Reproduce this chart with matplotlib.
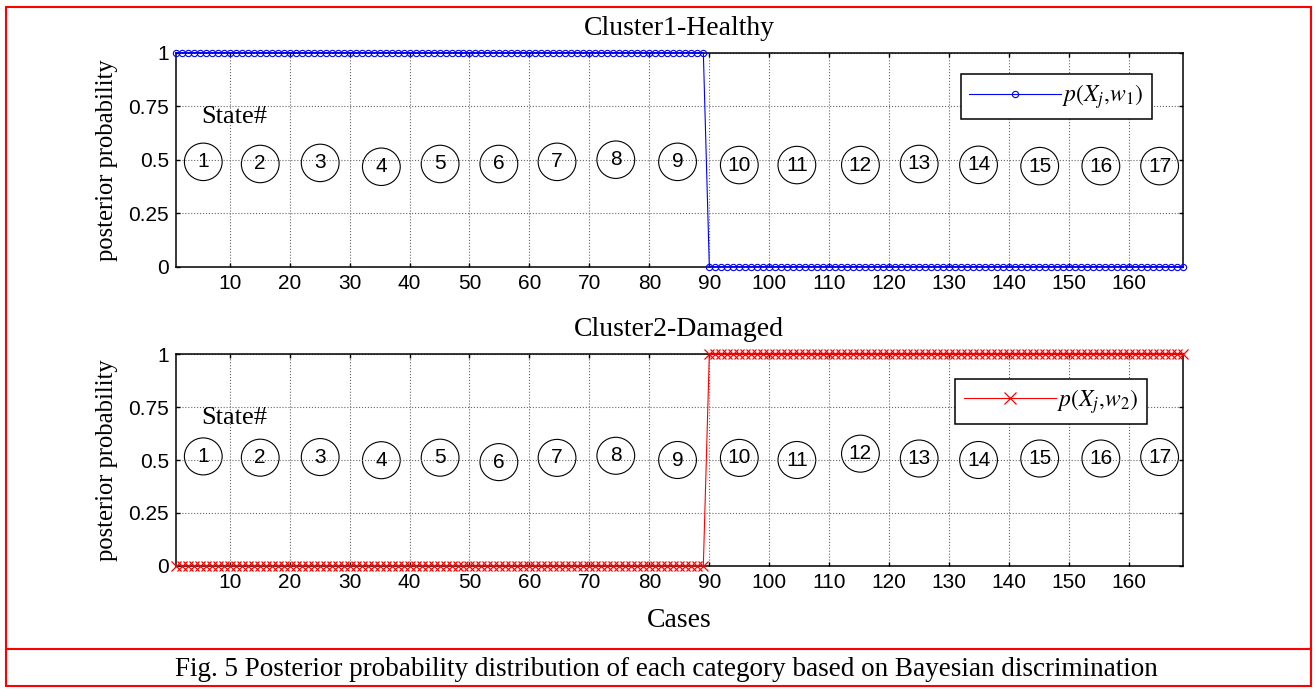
import numpy as np
import matplotlib.pyplot as plt
from matplotlib.patches import Ellipse, Rectangle
from matplotlib.lines import Line2D

# 169 cases, 17 states of about 10 cases each
cases = list(range(1, 170))
n_healthy = 89   # cases 1..89 classified healthy
n_damaged = 80   # cases 90..169 classified damaged
p_w1 = [1.0] * n_healthy + [0.0] * n_damaged
p_w2 = [0.0] * n_healthy + [1.0] * n_damaged

# state number annotations (circled numbers)
state_labels = [str(i) for i in range(1, 18)]
state_x = [5.6, 15.1, 25.1, 35.3, 45.1, 54.9, 64.6, 74.4, 84.7, 95.0,
           104.6, 115.2, 125.0, 134.9, 145.1, 155.3, 165.1]
state_y_top = [0.49, 0.48, 0.485, 0.467, 0.48, 0.48, 0.49, 0.50, 0.49, 0.475,
               0.475, 0.475, 0.48, 0.476, 0.47, 0.47, 0.47]
state_y_bot = [0.517, 0.511, 0.514, 0.499, 0.511, 0.49, 0.51, 0.52, 0.50, 0.51,
               0.50, 0.53, 0.507, 0.50, 0.507, 0.507, 0.514]

xticks = list(range(10, 170, 10))
yticks = [0, 0.25, 0.5, 0.75, 1]
ytick_labels = ['0', '0.25', '0.5', '0.75', '1']

plt.rcParams['font.family'] = 'Liberation Sans'
plt.rcParams['mathtext.fontset'] = 'stix'

W, H = 1315, 689
fig = plt.figure(figsize=(W / 100, H / 100), dpi=100)
ax1 = fig.add_axes([175.7 / W, 1 - 266.7 / H, (1183 - 175.7) / W, 214 / H])
ax2 = fig.add_axes([175.7 / W, 1 - 565.7 / H, (1183 - 175.7) / W, 211.4 / H])


def style_axis(ax, title, state_y):
    ax.set_xlim(1, 169)
    ax.set_ylim(0, 1)
    ax.set_xticks(xticks)
    ax.set_yticks(yticks)
    ax.set_yticklabels(ytick_labels)
    ax.tick_params(direction='in', length=3, width=1, top=True, right=True,
                   labelsize=15, pad=5)
    ax.grid(True, linestyle=':', color='0.4', linewidth=0.8)
    for s in ax.spines.values():
        s.set_linewidth(1.1)
    ax.set_title(title, family='Liberation Serif', fontsize=20, pad=13)
    ax.set_ylabel('posterior probability', family='Liberation Serif',
                  fontsize=17.7, labelpad=7)
    ax.text(5.3, 0.70, 'State#', family='Liberation Serif', fontsize=19,
            ha='left', va='center')
    for lab, x, y in zip(state_labels, state_x, state_y):
        ax.add_patch(Ellipse((x, y), 6.3, 0.175, fill=False,
                             edgecolor='black', linewidth=0.8))
        ax.text(x, y, lab, ha='center', va='center', fontsize=15)


style_axis(ax1, 'Cluster1-Healthy', state_y_top)
style_axis(ax2, 'Cluster2-Damaged', state_y_bot)

l1, = ax1.plot(cases, p_w1, '-o', color='blue', linewidth=0.8,
               markersize=4.5, markerfacecolor='none', markeredgewidth=0.8,
               clip_on=False, zorder=5)
l2, = ax2.plot(cases, p_w2, '-x', color='red', linewidth=0.8,
               markersize=7, markeredgewidth=0.9, clip_on=False, zorder=5)

leg1 = ax1.legend([l1], [r'$p(X_j{,}w_1)$'], loc='upper right',
                  bbox_to_anchor=(0.969, 0.90), borderaxespad=0,
                  fancybox=False, edgecolor='black', framealpha=1,
                  fontsize=17, handlelength=3.9, handletextpad=0.05,
                  borderpad=0.35)
leg1.get_frame().set_linewidth(1.1)
leg2 = ax2.legend([l2], [r'$p(X_j{,}w_2)$'], loc='upper right',
                  bbox_to_anchor=(0.964, 0.884), borderaxespad=0,
                  fancybox=False, edgecolor='black', framealpha=1,
                  fontsize=17, handlelength=3.9, handletextpad=0.05,
                  borderpad=0.35, markerscale=1.3)
leg2.get_frame().set_linewidth(1.1)

ax2.set_xlabel('Cases', family='Liberation Serif', fontsize=20, labelpad=12)

# red frame and caption
fig.add_artist(Rectangle((5.7 / W, 1 - 686 / H), (1311 - 5.7) / W, (686 - 6.7) / H,
                         transform=fig.transFigure, fill=False,
                         edgecolor='red', linewidth=1.5))
fig.add_artist(Line2D([5.7 / W, 1311 / W], [1 - 649 / H, 1 - 649 / H],
                      transform=fig.transFigure, color='red', linewidth=1.5))
fig.text(666 / W, 1 - 669 / H,
         'Fig. 5 Posterior probability distribution of each category based on Bayesian discrimination',
         family='Liberation Serif', fontsize=19.5, ha='center', va='center')

fig.savefig('out.png', dpi=100)
